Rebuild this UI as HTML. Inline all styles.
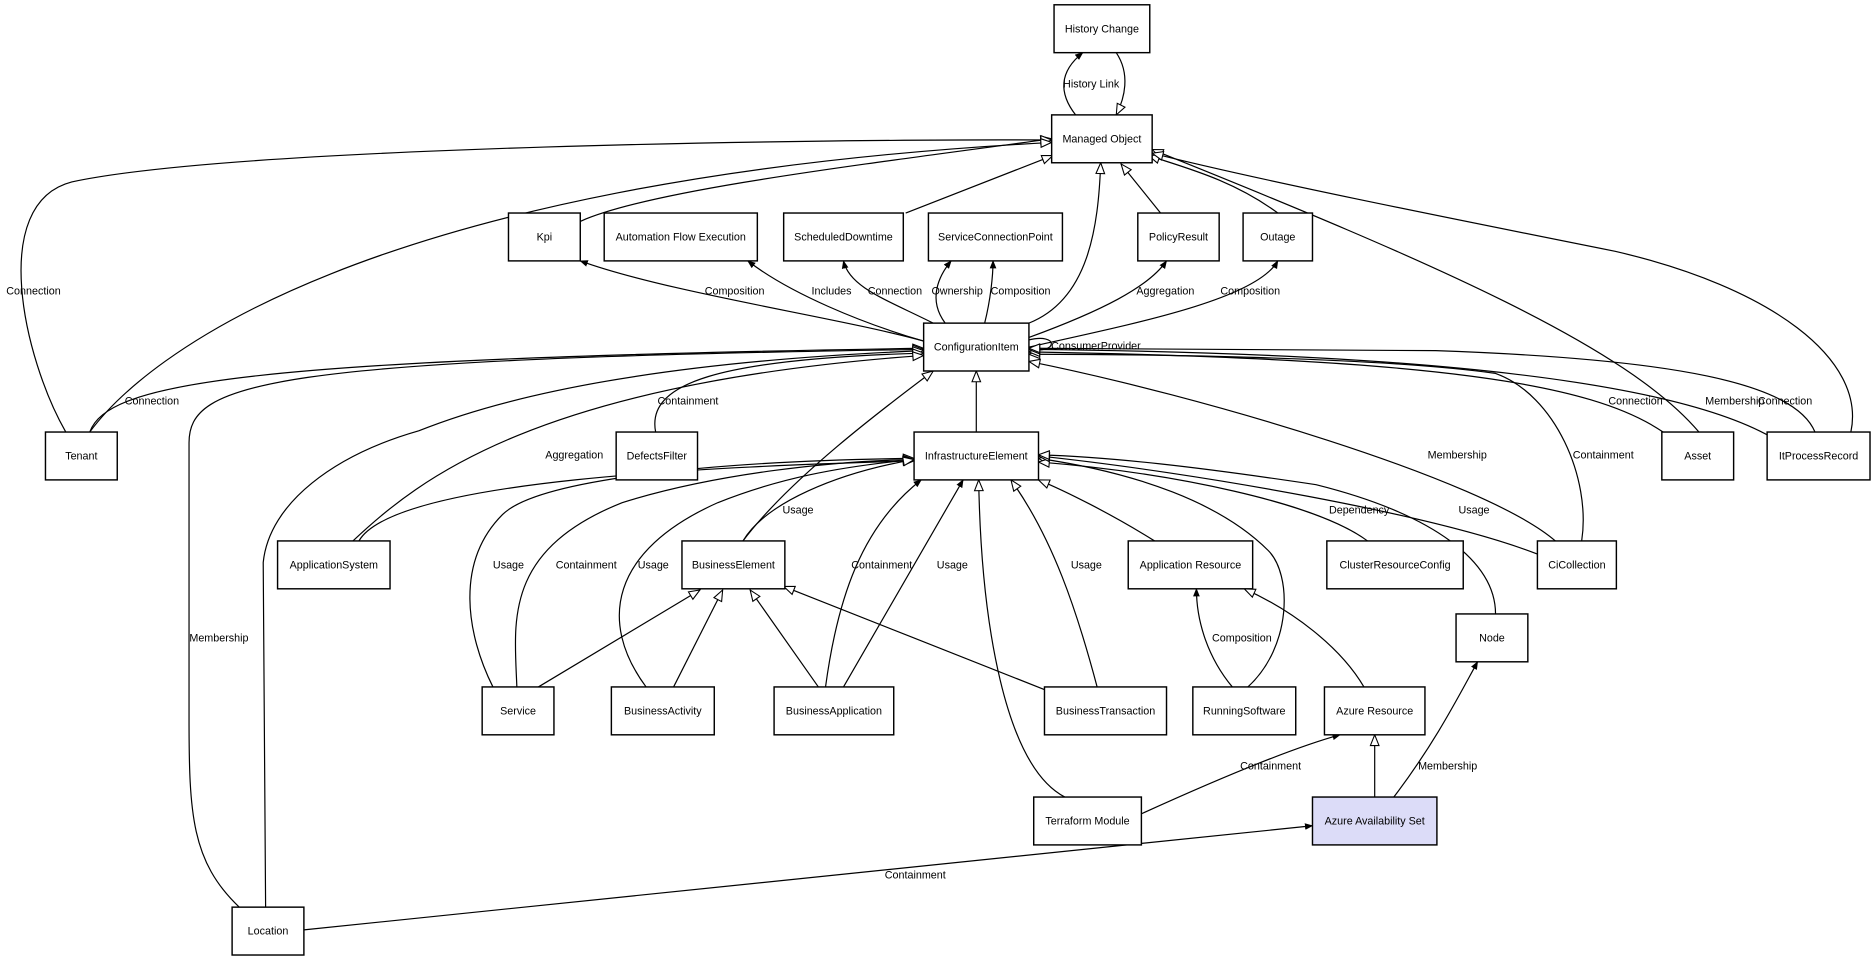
<!DOCTYPE html>
<html><head><meta charset="utf-8"><style>
html,body{margin:0;padding:0;background:#fff;}
svg{display:block;}
text{font-family:"Liberation Sans",Arial,sans-serif;font-size:9px;fill:#000;}
.n{fill:#fff;stroke:#000;stroke-width:1.2;}
.e{fill:none;stroke:#000;stroke-width:1;}
.h{marker-end:url(#hol);}
.f{marker-end:url(#fil);}
</style></head><body>
<svg width="1876" height="961" viewBox="0 0 1568 803" preserveAspectRatio="none" xmlns="http://www.w3.org/2000/svg">
<defs>
<marker id="hol" viewBox="0 0 12 10" refX="11" refY="5" markerWidth="11" markerHeight="9" markerUnits="userSpaceOnUse" orient="auto"><path d="M1,1 L11,5 L1,9 Z" fill="#fff" stroke="#000" stroke-width="1"/></marker>
<marker id="fil" viewBox="0 0 10 8" refX="9" refY="4" markerWidth="7" markerHeight="6" markerUnits="userSpaceOnUse" orient="auto"><path d="M0,0 L10,4 L0,8 Z" fill="#000"/></marker>
</defs>
<rect width="1568" height="803" fill="#fff"/>
<g>
<path class="e f" d="M899,96 C885,78 885,60 905,44"/>
<path class="e h" d="M933,44 C945,62 940,82 933,96"/>
<path class="e h" d="M485,185 C540,160 700,140 879,116"/>
<path class="e h" d="M55,361 C20,300 -10,170 60,152 C200,122 700,116 879,117"/>
<path class="e h" d="M75,361 C120,300 300,150 879,119"/>
<path class="e h" d="M757,178 L880,130"/>
<path class="e h" d="M860,270 C910,250 918,190 920,136"/>
<path class="e h" d="M970,178 L937,137"/>
<path class="e h" d="M1068,178 C1030,150 990,140 960,130"/>
<path class="e h" d="M1420,361 C1360,290 1200,220 963,125"/>
<path class="e h" d="M1547,361 C1560,300 1480,240 1350,210 C1200,180 1050,150 963,128"/>
<path class="e f" d="M772,285 C700,265 560,245 485,218"/>
<path class="e f" d="M772,285 C720,270 660,245 625,218"/>
<path class="e f" d="M780,270 C740,250 710,240 705,218"/>
<path class="e f" d="M790,270 C775,250 785,230 795,218"/>
<path class="e f" d="M823,270 C828,250 830,230 830,218"/>
<path class="e f" d="M860,282 C920,260 960,240 975,218"/>
<path class="e f" d="M860,290 C950,270 1050,250 1068,218"/>
<path class="e f" d="M860,284 C885,278 885,296 860,292"/>
<path class="e h" d="M75,361 C90,320 200,300 772,291"/>
<path class="e h" d="M200,758 C160,720 158,680 158,600 L158,370 C158,320 220,300 772,292"/>
<path class="e h" d="M222,758 L220,470 C225,420 280,380 350,360 C450,320 600,300 772,293"/>
<path class="e h" d="M548,361 C540,320 600,300 772,295"/>
<path class="e h" d="M295,452 C350,400 450,320 772,297"/>
<path class="e h" d="M300,452 C330,400 600,390 764,385"/>
<path class="e h" d="M621,452 C660,400 740,340 780,310"/>
<path class="e h" d="M816,361 L816,310"/>
<path class="e h" d="M1300,452 C1240,400 1000,330 860,302"/>
<path class="e h" d="M1322,452 C1330,400 1300,330 1250,312 C1150,298 950,296 860,296"/>
<path class="e h" d="M1390,361 C1330,320 1200,300 860,294"/>
<path class="e h" d="M1480,365 C1400,320 1200,295 860,292"/>
<path class="e h" d="M1517,361 C1500,320 1400,300 1200,293 C1000,291 900,291 860,291"/>
<path class="e h" d="M412,574 C390,530 380,470 420,430 C450,400 600,385 764,383"/>
<path class="e h" d="M432,574 C430,520 420,460 520,420 C600,395 700,385 764,384"/>
<path class="e h" d="M450,574 L585,493"/>
<path class="e h" d="M540,574 C500,520 510,460 600,420 C650,400 700,390 764,384"/>
<path class="e h" d="M563,574 L604,493"/>
<path class="e h" d="M621,452 C640,420 700,395 764,384"/>
<path class="e h" d="M684,574 L627,493"/>
<path class="e f" d="M690,574 C700,500 720,440 770,401"/>
<path class="e f" d="M705,574 L805,401"/>
<path class="e h" d="M875,577 L655,490"/>
<path class="e h" d="M917,574 C900,510 880,450 845,401"/>
<path class="e h" d="M890,666 C840,640 820,520 818,401"/>
<path class="e h" d="M965,452 C930,430 890,410 868,401"/>
<path class="e f" d="M1030,574 C1010,550 1000,520 1000,492"/>
<path class="e h" d="M1043,574 C1080,540 1080,480 1060,460 C1020,420 950,395 868,383"/>
<path class="e h" d="M1143,452 C1100,420 980,395 868,386"/>
<path class="e h" d="M1285,463 C1200,430 1000,395 868,381"/>
<path class="e h" d="M1250,513 C1250,470 1200,430 1100,405 C1000,390 930,382 868,380"/>
<path class="e h" d="M1140,574 C1120,540 1080,510 1040,492"/>
<path class="e f" d="M954,680 C1020,650 1080,625 1120,614"/>
<path class="e h" d="M1149,666 L1149,614"/>
<path class="e f" d="M1165,666 C1200,620 1220,580 1235,553"/>
<path class="e f" d="M254,777 L1097,690"/>
</g>
<g>
<rect class="n" x="881" y="4" width="80" height="40"/><text x="921" y="27" text-anchor="middle">History Change</text>
<rect class="n" x="879" y="96" width="84" height="40"/><text x="921" y="119" text-anchor="middle">Managed Object</text>
<rect class="n" x="425" y="178" width="60" height="40"/><text x="455" y="201" text-anchor="middle">Kpi</text>
<rect class="n" x="505" y="178" width="128" height="40"/><text x="569" y="201" text-anchor="middle">Automation Flow Execution</text>
<rect class="n" x="655" y="178" width="100" height="40"/><text x="705" y="201" text-anchor="middle">ScheduledDowntime</text>
<rect class="n" x="776" y="178" width="112" height="40"/><text x="832" y="201" text-anchor="middle">ServiceConnectionPoint</text>
<rect class="n" x="951" y="178" width="68" height="40"/><text x="985" y="201" text-anchor="middle">PolicyResult</text>
<rect class="n" x="1039" y="178" width="58" height="40"/><text x="1068" y="201" text-anchor="middle">Outage</text>
<rect class="n" x="772" y="270" width="88" height="40"/><text x="816" y="293" text-anchor="middle">ConfigurationItem</text>
<rect class="n" x="38" y="361" width="60" height="40"/><text x="68" y="384" text-anchor="middle">Tenant</text>
<rect class="n" x="515" y="361" width="68" height="40"/><text x="549" y="384" text-anchor="middle">DefectsFilter</text>
<rect class="n" x="764" y="361" width="104" height="40"/><text x="816" y="384" text-anchor="middle">InfrastructureElement</text>
<rect class="n" x="1389" y="361" width="60" height="40"/><text x="1419" y="384" text-anchor="middle">Asset</text>
<rect class="n" x="1477" y="361" width="86" height="40"/><text x="1520" y="384" text-anchor="middle">ItProcessRecord</text>
<rect class="n" x="232" y="452" width="94" height="40"/><text x="279" y="475" text-anchor="middle">ApplicationSystem</text>
<rect class="n" x="570" y="452" width="86" height="40"/><text x="613" y="475" text-anchor="middle">BusinessElement</text>
<rect class="n" x="943" y="452" width="104" height="40"/><text x="995" y="475" text-anchor="middle">Application Resource</text>
<rect class="n" x="1109" y="452" width="114" height="40"/><text x="1166" y="475" text-anchor="middle">ClusterResourceConfig</text>
<rect class="n" x="1285" y="452" width="66" height="40"/><text x="1318" y="475" text-anchor="middle">CiCollection</text>
<rect class="n" x="1217" y="513" width="60" height="40"/><text x="1247" y="536" text-anchor="middle">Node</text>
<rect class="n" x="403" y="574" width="60" height="40"/><text x="433" y="597" text-anchor="middle">Service</text>
<rect class="n" x="511" y="574" width="86" height="40"/><text x="554" y="597" text-anchor="middle">BusinessActivity</text>
<rect class="n" x="647" y="574" width="100" height="40"/><text x="697" y="597" text-anchor="middle">BusinessApplication</text>
<rect class="n" x="873" y="574" width="102" height="40"/><text x="924" y="597" text-anchor="middle">BusinessTransaction</text>
<rect class="n" x="997" y="574" width="86" height="40"/><text x="1040" y="597" text-anchor="middle">RunningSoftware</text>
<rect class="n" x="1107" y="574" width="84" height="40"/><text x="1149" y="597" text-anchor="middle">Azure Resource</text>
<rect class="n" x="864" y="666" width="90" height="40"/><text x="909" y="689" text-anchor="middle">Terraform Module</text>
<rect class="n" x="1097" y="666" width="104" height="40" style="fill:#dcdcf8"/><text x="1149" y="689" text-anchor="middle">Azure Availability Set</text>
<rect class="n" x="194" y="758" width="60" height="40"/><text x="224" y="781" text-anchor="middle">Location</text>
</g>
<g text-anchor="middle">
<text x="912" y="73">History Link</text>
<text x="28" y="246">Connection</text>
<text x="614" y="246">Composition</text>
<text x="695" y="246">Includes</text>
<text x="748" y="246">Connection</text>
<text x="800" y="246">Ownership</text>
<text x="853" y="246">Composition</text>
<text x="974" y="246">Aggregation</text>
<text x="1045" y="246">Composition</text>
<text x="916" y="292">ConsumerProvider</text>
<text x="127" y="338">Connection</text>
<text x="575" y="338">Containment</text>
<text x="1367" y="338">Connection</text>
<text x="1450" y="338">Membership</text>
<text x="1492" y="338">Connection</text>
<text x="480" y="383">Aggregation</text>
<text x="1218" y="383">Membership</text>
<text x="1340" y="383">Containment</text>
<text x="667" y="429">Usage</text>
<text x="1136" y="429">Dependency</text>
<text x="1232" y="429">Usage</text>
<text x="425" y="475">Usage</text>
<text x="490" y="475">Containment</text>
<text x="546" y="475">Usage</text>
<text x="737" y="475">Containment</text>
<text x="796" y="475">Usage</text>
<text x="908" y="475">Usage</text>
<text x="183" y="536">Membership</text>
<text x="1038" y="536">Composition</text>
<text x="1062" y="643">Containment</text>
<text x="1210" y="643">Membership</text>
<text x="765" y="734">Containment</text>
</g>
</svg>
</body></html>
